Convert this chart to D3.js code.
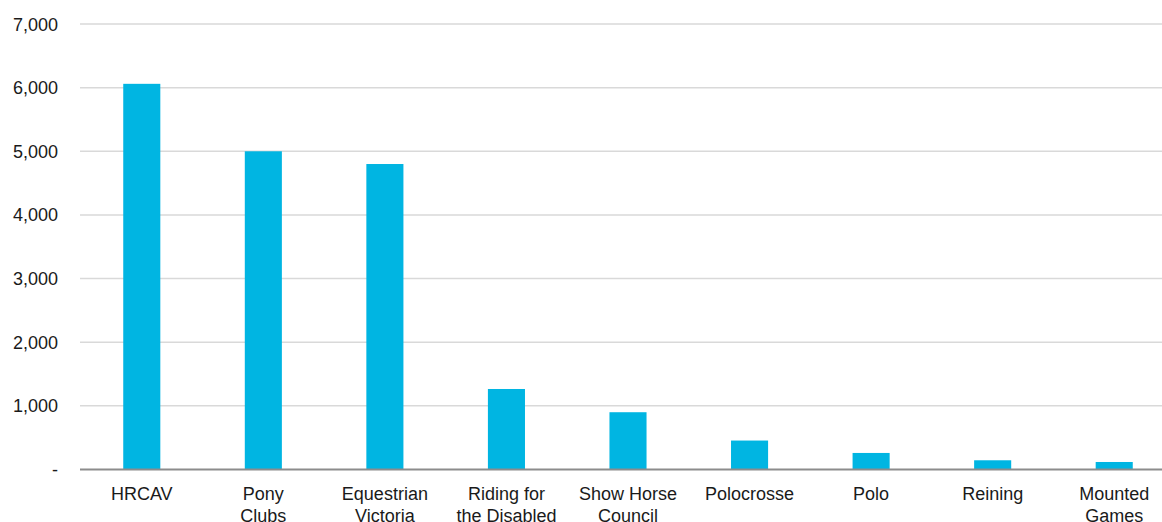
<!DOCTYPE html>
<html><head><meta charset="utf-8">
<script src="https://cdn.jsdelivr.net/npm/d3@7"></script>
<style>body{margin:0;background:#fff;} svg{display:block;font-family:"Liberation Sans",Arial,sans-serif;}</style>
</head><body>
<svg id="c" width="1162" height="522"></svg>
<script>
const categories = [["HRCAV"],["Pony","Clubs"],["Equestrian","Victoria"],["Riding for","the Disabled"],["Show Horse","Council"],["Polocrosse"],["Polo"],["Reining"],["Mounted","Games"]];
const values = [6060, 5000, 4800, 1265, 900, 455, 260, 145, 118];
const yTicks = [0, 1000, 2000, 3000, 4000, 5000, 6000, 7000];

const svg = d3.select("#c");
const x = d3.scaleBand().domain(categories.map((d,i)=>i)).range([81, 1175]).paddingInner(0.695).paddingOuter(0.3475);
const y = d3.scaleLinear().domain([0, 7000]).range([469.5, 24]);

// gridlines
svg.append("g").selectAll("line").data(yTicks.filter(d=>d>0)).join("line")
  .attr("x1", 80).attr("x2", 1162).attr("y1", d=>y(d)).attr("y2", d=>y(d))
  .attr("stroke", "#d9d9d9").attr("stroke-width", 1.5);

// y labels
svg.append("g").selectAll("text").data(yTicks).join("text")
  .attr("x", 58).attr("y", d=>y(d)+6.5).attr("text-anchor","end")
  .attr("font-size", 18).attr("fill", "#1a1a1a")
  .text(d=> d===0 ? "-" : d3.format(",")(d));

// bars
svg.append("g").selectAll("rect").data(values).join("rect")
  .attr("x", (d,i)=>x(i)).attr("width", x.bandwidth())
  .attr("y", d=>y(d)).attr("height", d=>y(0)-y(d))
  .attr("fill", "#00b5e2");

// baseline
svg.append("line").attr("x1",80).attr("x2",1162).attr("y1",y(0)).attr("y2",y(0))
  .attr("stroke","#8c8c8c").attr("stroke-width",2);

// x labels
const xl = svg.append("g").selectAll("text").data(categories).join("text")
  .attr("x", (d,i)=>x(i)+x.bandwidth()/2).attr("y", 500)
  .attr("text-anchor","middle").attr("font-size",18).attr("fill","#1a1a1a");
xl.selectAll("tspan").data(d=>d).join("tspan")
  .attr("x", function(){ return this.parentNode.getAttribute("x"); })
  .attr("dy", (d,i)=> i===0 ? 0 : 21.5)
  .text(d=>d);
</script>
</body></html>
